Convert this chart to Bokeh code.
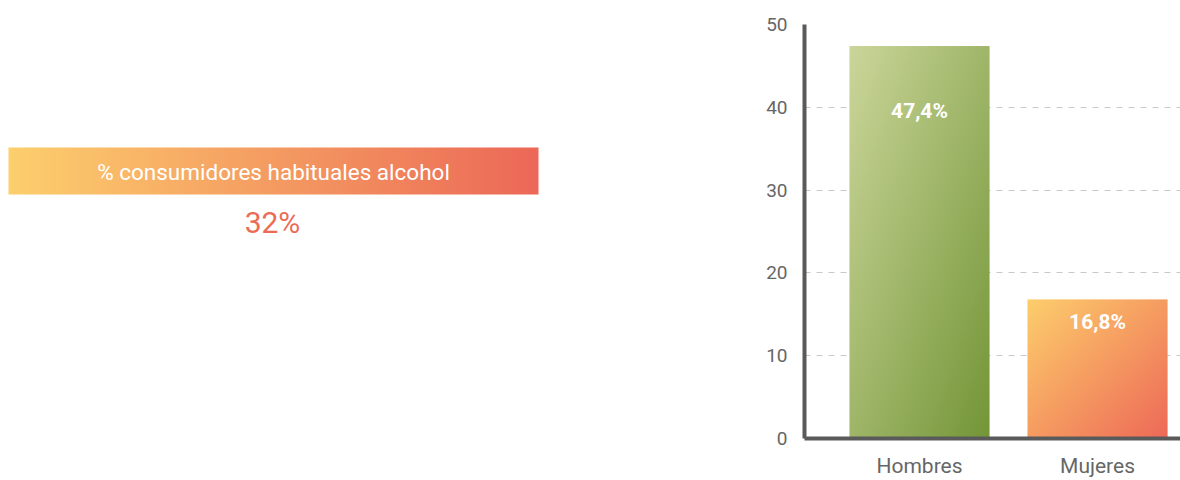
import numpy as np
from bokeh.plotting import figure
from bokeh.layouts import row
from bokeh.models import Range1d, FixedTicker, ColumnDataSource
from bokeh.core.properties import value
from bokeh.embed import file_html
from bokeh.resources import INLINE

# ---- data ----
categories = ["Hombres", "Mujeres"]
values = [47.4, 16.8]
overall_label = "% consumidores habituales alcohol"
overall_value = 32
y_ticks = [0, 10, 20, 30, 40, 50]

FONT = "Roboto"

def hex2rgb(h):
    h = h.lstrip("#")
    return np.array([int(h[i:i + 2], 16) for i in (0, 2, 4)], dtype=float)

def gradient(c0, c1, nx=120, ny=120, diagonal=True):
    a, b = hex2rgb(c0), hex2rgb(c1)
    u = np.linspace(0, 1, nx)[None, :]
    v = np.linspace(1, 0, ny)[:, None]  # row 0 is bottom -> v=1 (downward fraction)
    t = (u + v) / 2 if diagonal else np.repeat(u, ny, axis=0)
    t = np.broadcast_to(t, (ny, nx))
    rgb = a[None, None, :] * (1 - t[..., None]) + b[None, None, :] * t[..., None]
    img = np.empty((ny, nx), dtype=np.uint32)
    view = img.view(dtype=np.uint8).reshape((ny, nx, 4))
    view[..., 0] = rgb[..., 0].astype(np.uint8)
    view[..., 1] = rgb[..., 1].astype(np.uint8)
    view[..., 2] = rgb[..., 2].astype(np.uint8)
    view[..., 3] = 255
    return img

H = 480
TOP, BOTTOM = 24, 42   # frame borders shared by both panels

# ---- left panel: summary banner ----
LW = 748
left = figure(width=LW, height=H, x_range=Range1d(0, LW),
              y_range=Range1d(BOTTOM, H - TOP),
              output_backend="svg", toolbar_location=None,
              min_border_left=0, min_border_right=0,
              min_border_top=TOP, min_border_bottom=BOTTOM,
              title=None, x_axis_location=None, y_axis_location=None)
left.grid.visible = False
left.outline_line_color = None

banner = gradient("#fdcf6d", "#ec6857", nx=300, ny=48, diagonal=False)
left.image_rgba(image=[banner], x=8, y=286, dw=530, dh=47)
left.text(x=[273], y=[309], text=[overall_label], text_color="white",
          text_font=value(FONT), text_font_size="22.5px",
          text_align="center", text_baseline="middle")
left.text(x=[272], y=[258], text=[f"{overall_value}%"], text_color="#ec6b56",
          text_font=value(FONT), text_font_size="30px",
          text_align="center", text_baseline="middle")

# ---- right panel: bar chart ----
xpos = [0.5 + i for i in range(len(categories))]
bw = 0.787
right = figure(width=432, height=H, x_range=Range1d(-0.146, 1.966),
               y_range=Range1d(0, 50), output_backend="svg", toolbar_location=None,
               title=None, min_border_left=56, min_border_right=0,
               min_border_top=TOP, min_border_bottom=0)
right.outline_line_color = None

grads = [gradient("#cbd69a", "#749638"), gradient("#fdce6c", "#ee6a57")]
right.image_rgba(image=grads, x=[x - bw / 2 for x in xpos], y=[0] * len(values),
                 dw=[bw] * len(values), dh=values)

src = ColumnDataSource(dict(x=xpos, y=[v * 0.835 for v in values],
                            t=[f"{v:.1f}".replace(".", ",") + "%" for v in values]))
right.text(x="x", y="y", text="t", source=src, text_color="white",
           text_font=value(FONT), text_font_style="bold", text_font_size="21px",
           text_align="center", text_baseline="middle")

right.xgrid.visible = False
right.ygrid.ticker = FixedTicker(ticks=y_ticks[1:])
right.ygrid.grid_line_color = "#c8c8c8"
right.ygrid.grid_line_dash = "6 6"

right.yaxis.ticker = FixedTicker(ticks=y_ticks)
right.xaxis.ticker = FixedTicker(ticks=xpos)
right.xaxis.major_label_overrides = {x: c for x, c in zip(xpos, categories)}
for ax in (right.xaxis, right.yaxis):
    ax.axis_line_color = "#5a5a5a"
    ax.axis_line_width = 4
    ax.major_tick_line_color = None
    ax.minor_tick_line_color = None
    ax.major_label_text_color = "#666666"
    ax.major_label_text_font = FONT
right.yaxis.major_label_text_font_size = "19px"
right.xaxis.major_label_text_font_size = "21px"
right.yaxis.major_label_standoff = 11
right.xaxis.major_label_standoff = 9

p = row(left, right)
open("out.html", "w").write(file_html(p, INLINE))
